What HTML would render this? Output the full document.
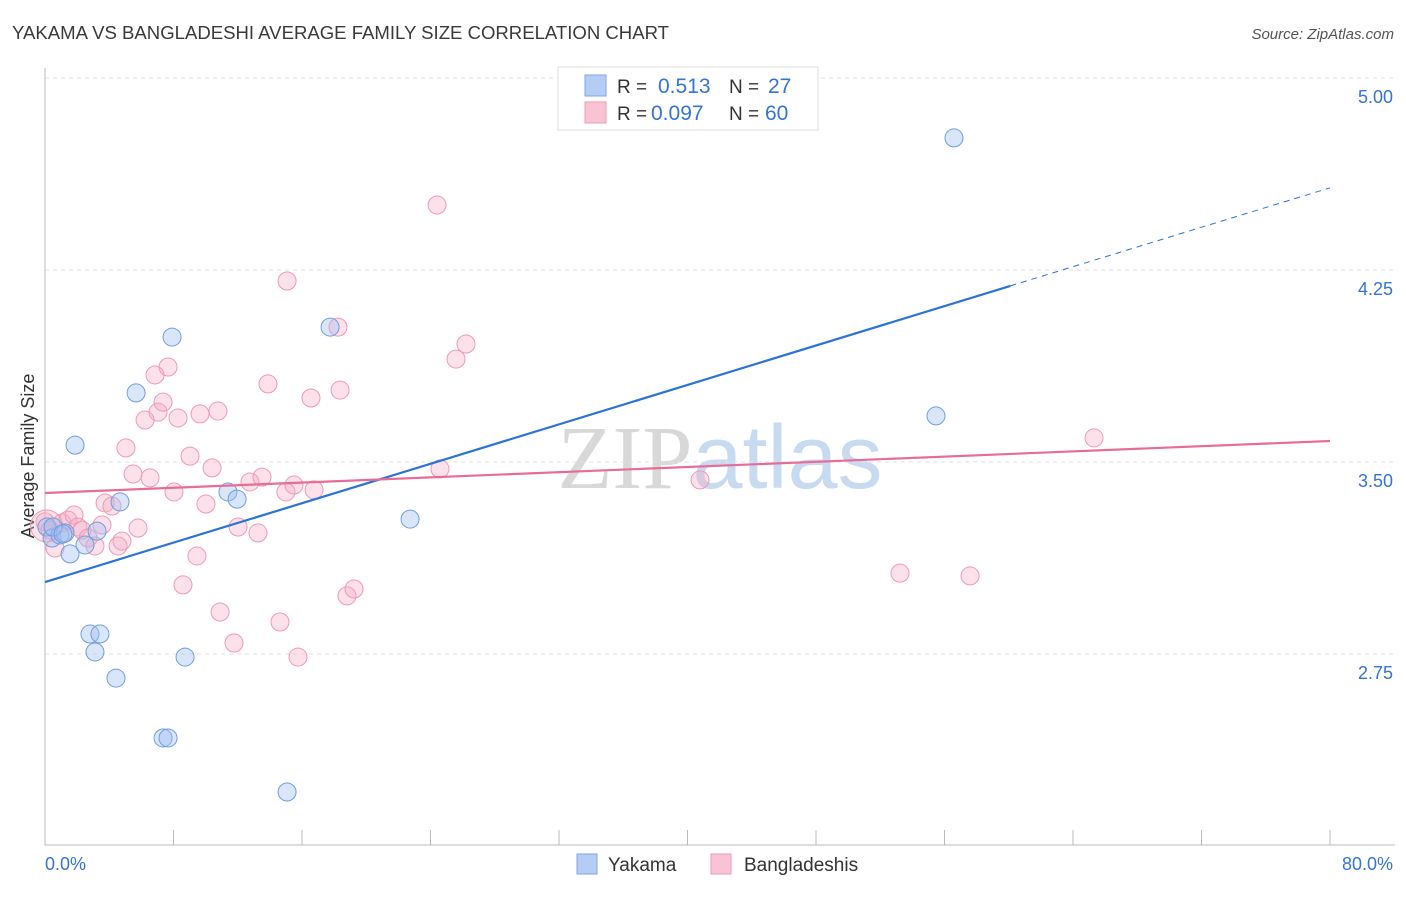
<!DOCTYPE html>
<html><head><meta charset="utf-8"><style>
body{margin:0;background:#fff;font-family:"Liberation Sans",sans-serif;}
svg text{font-family:"Liberation Sans",sans-serif;}
</style></head><body>
<svg width="1406" height="892" id="chart">
<text x="12" y="39" font-size="18" textLength="657" lengthAdjust="spacingAndGlyphs" fill="#3a3a3a">YAKAMA VS BANGLADESHI AVERAGE FAMILY SIZE CORRELATION CHART</text>
<text x="1394" y="39" font-size="15" fill="#555" text-anchor="end" font-style="italic">Source: ZipAtlas.com</text>
<text x="720" y="488" font-size="90" text-anchor="middle"><tspan fill="#d8d8d8" font-family="Liberation Serif">ZIP</tspan><tspan fill="#c8daf0">atlas</tspan></text>
<text transform="translate(34,456) rotate(-90)" font-size="18" fill="#333" text-anchor="middle">Average Family Size</text>
<g id="grid"></g><g id="marks"></g>
<g>
<rect x="558" y="67" width="260" height="63" fill="#fff" stroke="#ddd"/>
<rect x="585" y="75" width="21" height="21" fill="#b5cdf2" stroke="#7aa6e6"/>
<rect x="585" y="102" width="21" height="21" fill="#f8c4d4" stroke="#ef9ab4"/>
<text x="617" y="93" font-size="19" fill="#333">R = </text><text x="658" y="93" font-size="21" fill="#3474d4">0.513</text>
<text x="729" y="93" font-size="19" fill="#333">N = </text><text x="768" y="93" font-size="21" fill="#3474d4">27</text>
<text x="617" y="120" font-size="19" fill="#333">R = </text><text x="651" y="120" font-size="21" fill="#3474d4">0.097</text>
<text x="729" y="120" font-size="19" fill="#333">N = </text><text x="765" y="120" font-size="21" fill="#3474d4">60</text>
</g>
<g>
<rect x="577" y="854" width="20" height="20" fill="#b5cdf2" stroke="#7aa6e6"/>
<text x="608" y="871" font-size="19" fill="#333">Yakama</text>
<rect x="711" y="854" width="20" height="20" fill="#f8c4d4" stroke="#ef9ab4"/>
<text x="744" y="871" font-size="19" fill="#333">Bangladeshis</text>
</g>
</svg>
<script>
const yTicks=[2.75,3.50,4.25,5.00];
const yTickLabels=["2.75","3.50","4.25","5.00"];
const xTickLabels=["0.0%","80.0%"];
const yakamaX=[0.12,0.44,0.93,1.25,1.56,1.87,2.49,2.80,3.11,3.42,3.24,4.42,4.67,5.67,7.35,7.66,7.91,8.72,11.39,11.96,15.07,17.75,22.73,55.47,56.59,0.50,1.12];
const yakamaY=[3.246,3.203,3.215,3.223,3.141,3.566,3.176,2.828,2.758,2.828,3.230,2.656,3.344,3.770,2.422,2.422,3.988,2.738,3.383,3.355,2.211,4.027,3.277,3.680,4.766,3.246,3.219];
const bangX=[0,0.31,0.62,1.06,1.43,1.81,2.05,2.30,2.68,3.11,3.55,3.74,4.17,4.55,4.79,5.04,5.48,5.79,6.23,6.54,6.85,7.04,7.35,7.66,8.03,8.28,8.59,9.03,9.46,9.65,10.02,10.40,10.77,10.90,11.77,12.02,12.76,13.26,13.51,13.88,14.63,15.00,15.07,15.50,15.75,16.56,16.75,18.24,18.37,18.80,19.24,24.41,24.59,25.59,26.21,40.78,53.23,57.59,65.31,0.1];
const bangY=[3.266,3.234,3.164,3.262,3.273,3.293,3.246,3.234,3.203,3.172,3.254,3.340,3.328,3.172,3.191,3.555,3.453,3.242,3.664,3.438,3.840,3.695,3.734,3.871,3.383,3.672,3.020,3.523,3.133,3.688,3.336,3.477,3.699,2.914,2.793,3.246,3.422,3.223,3.441,3.805,2.875,3.383,4.207,3.410,2.738,3.750,3.391,4.027,3.781,2.977,3.004,4.504,3.473,3.902,3.961,3.430,3.066,3.055,3.594,3.25];
const yakamaTrend=[3.031,4.571];
const bangTrend=[3.379,3.582];
const NS="http://www.w3.org/2000/svg";
const X=v=>45+v/80*1285, Y=v=>78+(5-v)*256;
function mk(tag,attrs,parent){const e=document.createElementNS(NS,tag);for(const k in attrs)e.setAttribute(k,attrs[k]);parent.appendChild(e);return e;}
const grid=document.getElementById('grid'), marks=document.getElementById('marks');
yTicks.forEach((t,i)=>{
 const l=mk('line',{x1:45,x2:1395,y1:Y(t),y2:Y(t),stroke:'#e2e2e2','stroke-dasharray':'4,4'},grid);
 
 
 const tx=mk('text',{x:1393,y:Y(t)+25,'font-size':18,fill:'#3474d4','text-anchor':'end'},grid);
 tx.textContent=yTickLabels[i];
 
 
});
const ax=mk('line',{x1:45,x2:45,y1:68,y2:845,stroke:'#bbb'},grid);


const bx=mk('line',{x1:45,x2:1395,y1:845,y2:845,stroke:'#bbb'},grid);


for(let i=0;i<=10;i++){const t=mk('line',{x1:X(i*8),x2:X(i*8),y1:830,y2:845,stroke:'#bbb'},grid);
 
 }
[[0,'start',45],[80,'end',1393]].forEach((a,i)=>{const t=mk('text',{x:a[2],y:870,'font-size':18,fill:'#3474d4','text-anchor':a[1]},grid);t.textContent=xTickLabels[i];
 
 });
bangX.forEach((x,i)=>{const c=mk('circle',{cx:X(x),cy:Y(bangY[i]),r:i==bangX.length-1?16:9,fill:'rgba(246,170,195,0.35)',stroke:'#ef9ab4','stroke-width':1},marks);
 
 });
yakamaX.forEach((x,i)=>{const c=mk('circle',{cx:X(x),cy:Y(yakamaY[i]),r:9,fill:'rgba(160,190,240,0.4)',stroke:'#6f9de2','stroke-width':1},marks);
 
 });
const ys=x=>yakamaTrend[0]+(yakamaTrend[1]-yakamaTrend[0])*x/80;
const l1=mk('line',{x1:X(0),y1:Y(ys(0)),x2:X(60.1),y2:Y(ys(60.1)),stroke:'#2a73d8','stroke-width':2.2},marks);


const l2=mk('line',{x1:X(60.1),y1:Y(ys(60.1)),x2:X(80),y2:Y(ys(80)),stroke:'#2a73d8','stroke-width':1,'stroke-dasharray':'6,5'},marks);


const l3=mk('line',{x1:X(0),y1:Y(bangTrend[0]),x2:X(80),y2:Y(bangTrend[1]),stroke:'#e86c98','stroke-width':2.2},marks);


</script>
</body></html>
